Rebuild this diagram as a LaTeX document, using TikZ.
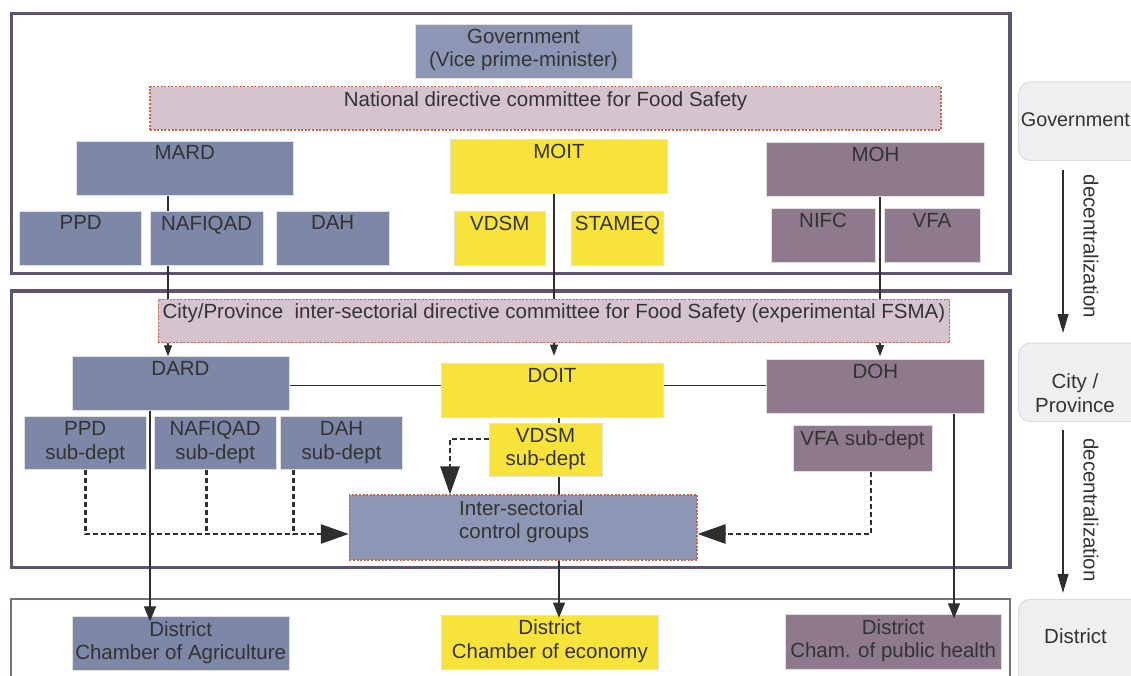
\documentclass[tikz,border=0pt]{standalone}
\usepackage{fontspec}
\setmainfont{Liberation Sans}
\usetikzlibrary{arrows.meta,fit}
\definecolor{bdark}{HTML}{7D87A7}
\definecolor{blight}{HTML}{8D97B5}
\definecolor{yel}{HTML}{F7E33A}
\definecolor{mauve}{HTML}{8E7A8C}
\definecolor{pinkc}{HTML}{D5C4D0}
\definecolor{dashc}{HTML}{C8664A}
\definecolor{framec}{HTML}{5F5470}
\definecolor{txtc}{HTML}{333333}
\definecolor{linec}{HTML}{2E2E2E}
\definecolor{rfill}{HTML}{EFEFEF}
\definecolor{rdraw}{HTML}{DCDCDC}
\newcommand\dfont{\fontsize{20.5pt}{23.5pt}\selectfont}
\pgfdeclarelayer{bg}
\pgfsetlayers{bg,main}
\begin{document}
\begin{tikzpicture}[x=1pt,y=-1pt,
  bx/.style={draw=black!12, line width=0.7pt, inner sep=0pt},
  comm/.style={draw=dashc, dash pattern=on 2pt off 1.6pt, line width=1.1pt, inner sep=0pt},
  lbl/.style={anchor=north, inner sep=0pt, yshift=-5pt, font=\dfont, text=txtc, align=center},
  tl/.style={label={[lbl]north:{#1}}},
  txt/.style={inner sep=0pt, font=\dfont, text=txtc, align=center},
  rbox/.style={fill=rfill, draw=rdraw, line width=1pt, rounded corners=12pt, inner sep=0pt},
  conn/.style={draw=linec, line width=1.1pt},
  sarrow/.style={conn, -{Triangle[width=8pt,length=11pt]}},
  darrow/.style={conn, -{Triangle[width=12pt,length=15pt]}},
  rarrow/.style={conn, -{Triangle[width=11pt,length=19pt]}},
  dashconn/.style={draw=linec, line width=2.6pt, dash pattern=on 5pt off 3pt},
  bigarrow/.style={-{Triangle[width=19pt,length=28pt]}},
  frame/.style={draw=framec, line width=3.5pt}
]
\useasboundingbox (0,0) rectangle (1131,676);

% column coordinates
\coordinate (xA) at (168,0);
\coordinate (xB) at (554,0);
\coordinate (xC) at (880,0);
\coordinate (xD) at (150,0);
\coordinate (xE) at (559,0);
\coordinate (xF) at (954,0);
\coordinate (xN) at (206.4,0);
\coordinate (xH) at (293.6,0);
\coordinate (xV) at (871,0);
\coordinate (xW) at (450,0);
\coordinate (xR) at (1063,0);
\coordinate (jy) at (0,534);
\coordinate (vy) at (0,439);
\coordinate (hy) at (0,385.3);

% ---------- national level ----------
\node[bx, fill=blight, fit={(415,24.3) (632,78.3)}, tl={Government\\(Vice prime-minister)}] (gov) {};
\node[comm, fill=pinkc, fit={(150,86.7) (941,130)}, tl={National directive committee for Food Safety}] (natc) {};
\node[bx, fill=bdark, fit={(76,141) (293.6,195)}, tl={MARD}] (mard) {};
\node[bx, fill=yel, fit={(450,139.3) (667.8,193.3)}, tl={MOIT}] (moit) {};
\node[bx, fill=mauve, fit={(766.8,142.7) (984.2,196.7)}, tl={MOH}] (moh) {};
\node[bx, fill=bdark, fit={(19.6,211) (141.8,265)}, tl={PPD}] (ppd) {};
\node[bx, fill=bdark, fit={(150,211) (263.2,265)}, tl={NAFIQAD}] (naf) {};
\node[bx, fill=bdark, fit={(276,211) (389.3,265)}, tl={DAH}] (dah) {};
\node[bx, fill=yel, fit={(454,211) (545.7,265)}, tl={VDSM}] (vdsm) {};
\node[bx, fill=yel, fit={(571.6,211) (663.4,265.7)}, tl={STAMEQ}] (stameq) {};
\node[bx, fill=mauve, fit={(771.2,208.7) (875,262.3)}, tl={NIFC}] (nifc) {};
\node[bx, fill=mauve, fit={(884,208.7) (979.9,262.3)}, tl={VFA}] (vfa) {};

% ---------- city / province level ----------
\node[comm, fill=pinkc, fit={(158.2,299.3) (949.6,342.7)}, tl={City/Province~~inter-sectorial directive committee for Food Safety (experimental FSMA)}] (cityc) {};
\node[bx, fill=bdark, fit={(72,356.7) (289,410.7)}, tl={DARD}] (dard) {};
\node[bx, fill=yel, fit={(441,363) (663,417)}, tl={DOIT}] (doit) {};
\node[bx, fill=mauve, fit={(766.8,359) (984,413.7)}, tl={DOH}] (doh) {};
\node[bx, fill=bdark, fit={(24,416.7) (146.4,469.3)}, tl={PPD\\sub-dept}] (ppds) {};
\node[bx, fill=bdark, fit={(154.3,416.7) (276,469.3)}, tl={NAFIQAD\\sub-dept}] (nafs) {};
\node[bx, fill=bdark, fit={(280.7,416.7) (402.5,469.3)}, tl={DAH\\sub-dept}] (dahs) {};
\node[bx, fill=yel, fit={(489,423) (602,476)}, tl={VDSM\\sub-dept}] (vdsms) {};
\node[bx, fill=mauve, fit={(793,425.7) (932,471.7)}, tl={VFA sub-dept}] (vfas) {};
\node[comm, fill=blight, fit={(349.3,495) (697,560)}] (ctrl) {};
\node[txt, anchor=north west, align=left] (tctrl) at (459,500) {Inter-sectorial\\control groups};

% ---------- district level ----------
\node[bx, fill=bdark, fit={(72,616.7) (289.3,670.7)}, tl={District\\Chamber of Agriculture}] (dagr) {};
\node[bx, fill=yel, fit={(441.6,615) (658,669.3)}, tl={District\\Chamber of economy}] (decon) {};
\node[bx, fill=mauve, fit={(785,614.7) (1001.4,669)}, tl={District\\Cham. of public health}] (dhealth) {};

% ---------- right column ----------
\node[rbox, fit={(1018.5,82) (1145,160.5)}] (rgov) {};
\node[rbox, fit={(1018.5,343) (1145,421.5)}] (rcity) {};
\node[rbox, fit={(1018.5,599.3) (1145,700)}] (rdist) {};
\node[txt, anchor=east, font=\fontsize{19.8pt}{23pt}\selectfont] (tgov) at (1130,120) {Government};
\node[txt, anchor=north] (tcity) at (1075,373.5) {City /\\Province};
\node[txt] (tdist) at (1075.5,636.5) {District};
\node[txt, rotate=-90] (dec1) at (1091,246.5) {decentralization};
\node[txt, rotate=-90] (dec2) at (1091,510) {decentralization};
\draw[rarrow, shorten <=9pt, shorten >=9.5pt] (rgov.south -| xR) -- (rcity.north -| xR);
\draw[rarrow, shorten <=8pt, shorten >=6pt] (rcity.south -| xR) -- (rdist.north -| xR);

% ---------- background: frames and lines behind boxes ----------
\begin{pgfonlayer}{bg}
\draw[frame] (11.5,13.5) rectangle (1010,273.5);
\draw[frame] (11.5,291) rectangle (1010,567.7);
\draw[draw=framec!85!white, line width=1.3pt] (11,599) rectangle (1010,700);
\draw[conn] (mard.south -| xA) -- (cityc.north -| xA);
\draw[conn] (moit.south -| xB) -- (cityc.north -| xB);
\draw[conn] (moh.south -| xC) -- (cityc.north -| xC);
\draw[conn] (doit.south -| xE) -- (ctrl.south -| xE);
\draw[conn] (dard.east |- hy) -- (doit.west |- hy);
\draw[conn] (doit.east |- hy) -- (doh.west |- hy);
\end{pgfonlayer}

% ---------- connectors on top ----------
\draw[sarrow] (cityc.south -| xA) -- (dard.north -| xA);
\draw[sarrow, shorten >=7pt] (cityc.south -| xB) -- (doit.north -| xB);
\draw[sarrow, shorten >=2.5pt] (cityc.south -| xC) -- (doh.north -| xC);

\draw[darrow, shorten >=-5pt] (dard.south -| xD) -- (dagr.north -| xD);
\draw[darrow, shorten >=-3pt] (ctrl.south -| xE) -- (decon.north -| xE);
\draw[darrow, shorten >=-4pt] (doh.south -| xF) -- (dhealth.north -| xF);

\draw[dashconn, bigarrow] (ppds.south) |- (ctrl.west |- jy);
\draw[dashconn] (nafs.south -| xN) -- (jy -| xN);
\draw[dashconn] (dahs.south -| xH) -- (jy -| xH);
\draw[dashconn, bigarrow] (vfas.south -| xV) |- (ctrl.east |- jy);
\draw[dashconn, bigarrow] (vdsms.west |- vy) -| (ctrl.north -| xW);
\end{tikzpicture}
\end{document}
